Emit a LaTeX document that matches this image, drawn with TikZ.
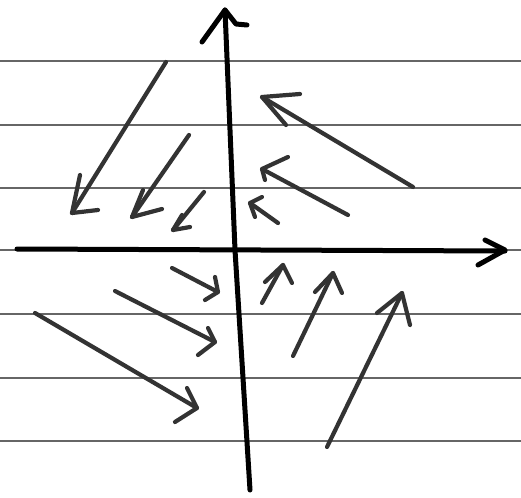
\documentclass[tikz,border=0pt]{standalone}
\begin{document}
\begin{tikzpicture}[x=1pt,y=-1pt,
  paper/.style={draw=black!60,line width=1.4pt},
  axisline/.style={draw=black,line width=5pt,line cap=round,line join=round},
  vec/.style={draw=black!80,line width=4.2pt,line cap=round,line join=round}]
\useasboundingbox (0,0) rectangle (521,497);
\fill[white] (0,0) rectangle (521,497);
% ruled paper lines
\foreach \y in {61,125,188,250,314,378,441}
  \draw[paper] (0,\y) -- (521,\y);
% axes
\draw[axisline] (17,249) -- (505,251);
\draw[axisline] (485,240) -- (505,250) -- (478,265);
\draw[axisline] (250,490) -- (235,250) -- (225,10);
\draw[axisline] (202,42) -- (225,10) -- (236,24) -- (247,25);
% upper-left: down-left
\draw[vec] (166,62) -- (72,213);
\draw[vec] (80,175) -- (72,213) -- (98,210);
\draw[vec] (189,135) -- (132,217);
\draw[vec] (143,190) -- (132,217) -- (162,209);
\draw[vec] (204,192) -- (173,230);
\draw[vec] (182,215) -- (173,230) -- (190,227);
% upper-right: up-left
\draw[vec] (413,187) -- (262,97);
\draw[vec] (300,94) -- (262,97) -- (286,125);
\draw[vec] (348,215) -- (262,169);
\draw[vec] (288,157) -- (262,169) -- (265,180);
\draw[vec] (278,223) -- (250,203);
\draw[vec] (262,197) -- (250,203) -- (255,217);
% lower-left: down-right
\draw[vec] (172,268) -- (218,292);
\draw[vec] (215,277) -- (218,292) -- (205,300);
\draw[vec] (115,291) -- (215,342);
\draw[vec] (208,328) -- (215,342) -- (198,355);
\draw[vec] (35,313) -- (197,408);
\draw[vec] (187,388) -- (197,408) -- (175,422);
% lower-right: up-right
\draw[vec] (262,303) -- (283,265);
\draw[vec] (265,282) -- (283,265) -- (292,283);
\draw[vec] (293,356) -- (333,273);
\draw[vec] (315,292) -- (333,273) -- (342,293);
\draw[vec] (327,447) -- (402,293);
\draw[vec] (377,313) -- (402,293) -- (410,325);
\end{tikzpicture}
\end{document}
